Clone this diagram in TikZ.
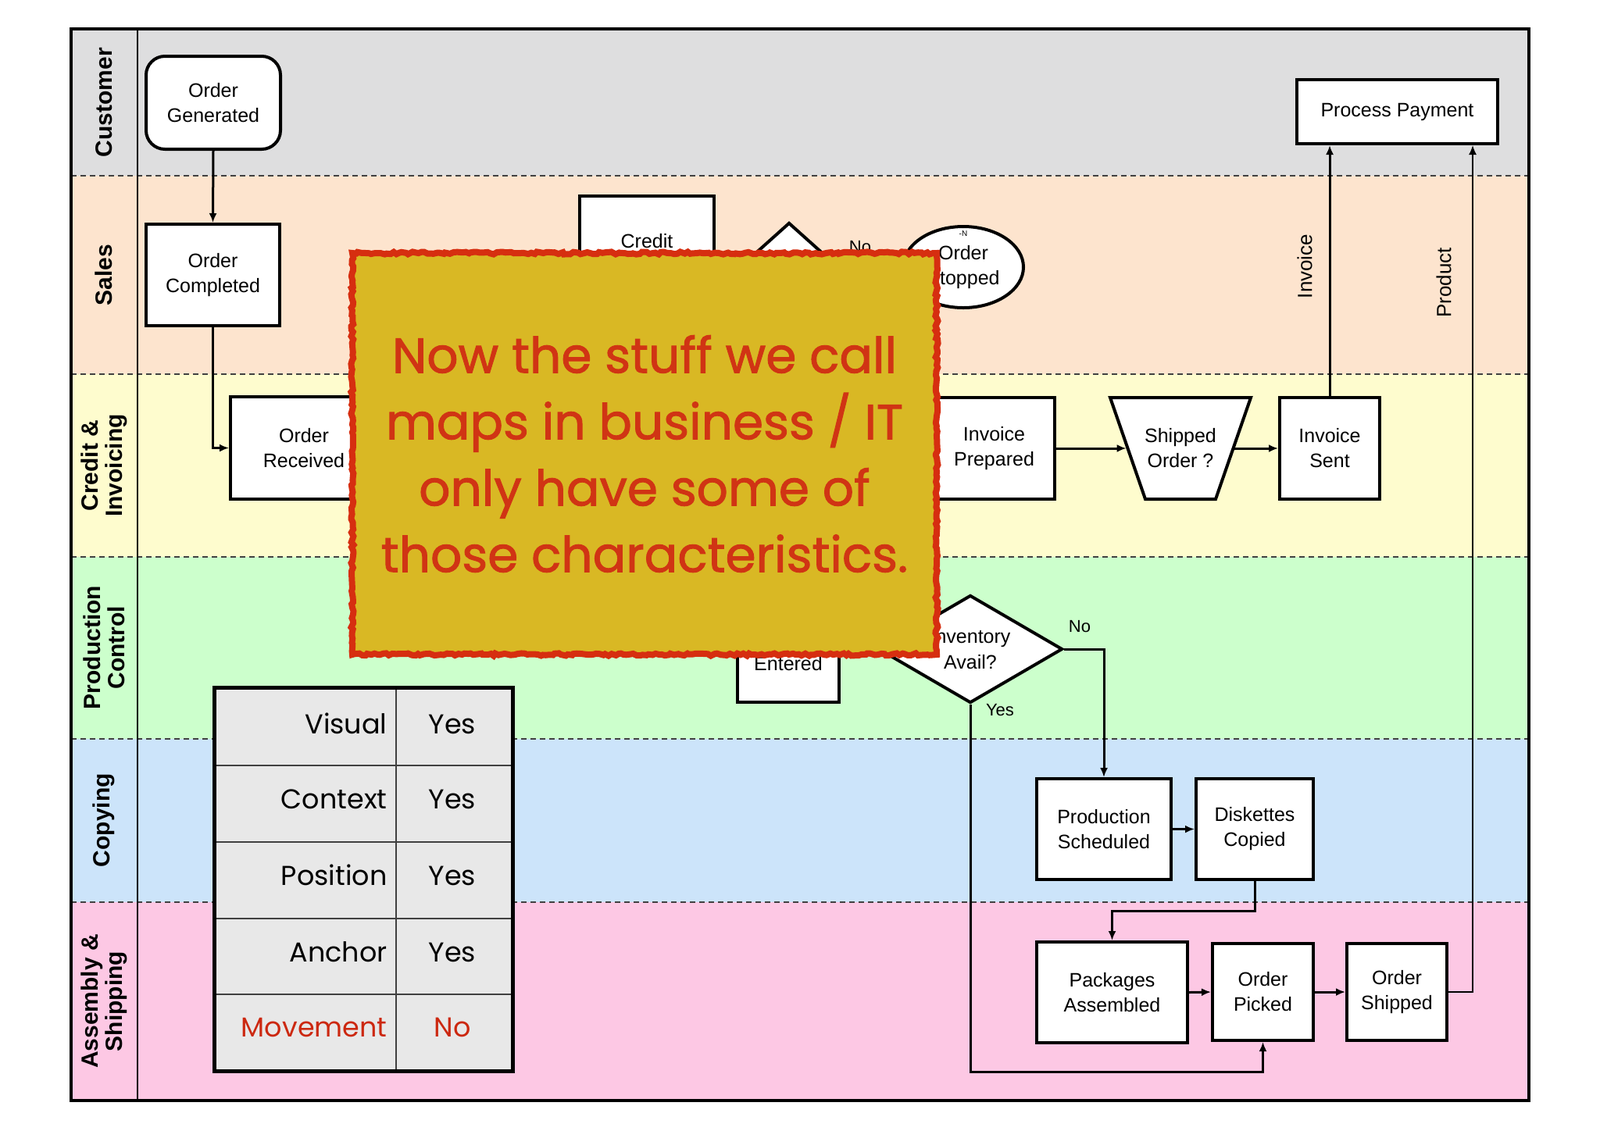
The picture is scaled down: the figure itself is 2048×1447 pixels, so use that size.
\documentclass[tikz,border=0pt]{standalone}
\usepackage{fontspec}
\setmainfont{Liberation Sans}
\newfontfamily\comicfont{Poppins}
\newfontfamily\comicheavy{Poppins}[FakeBold=1.5]
\usetikzlibrary{arrows.meta,decorations.pathmorphing,calc,shapes.geometric}
\definecolor{lanecust}{RGB}{222,222,223}
\definecolor{lanesales}{RGB}{253,228,206}
\definecolor{lanecredit}{RGB}{254,252,206}
\definecolor{laneprod}{RGB}{204,255,204}
\definecolor{lanecopy}{RGB}{204,228,250}
\definecolor{laneasm}{RGB}{253,200,228}
\definecolor{ovfill}{RGB}{217,184,36}
\definecolor{ovred}{RGB}{214,46,16}
\definecolor{ovtext}{RGB}{208,52,20}
\definecolor{tabfill}{RGB}{232,232,232}
\definecolor{movred}{RGB}{204,40,16}
\begin{document}
\begin{tikzpicture}[x=0.5pt,y=-0.5pt,
  box/.style={draw=black,line width=2pt,fill=white,align=center,inner sep=0pt,
    font=\fontsize{12.5}{16}\selectfont},
  conn/.style={line width=1.5pt,-{Latex[length=6pt,width=5pt]}},
  thinconn/.style={line width=0.8pt,-{Latex[length=6pt,width=5pt]}},
  lanelbl/.style={rotate=90,align=center,font=\bfseries\fontsize{15}{15.5}\selectfont},
  edgelbl/.style={font=\fontsize{11}{13}\selectfont,inner sep=0pt},
  sidelbl/.style={rotate=90,font=\fontsize{13}{15}\selectfont,inner sep=0pt},
  lanesep/.style={draw=black!75,line width=1pt,dash pattern=on 3.5pt off 2.5pt},
  tabtxt/.style={font=\comicfont\fontsize{17.5}{20}\selectfont,inner sep=0pt}
]
\useasboundingbox (0,0) rectangle (2048,1447);
\fill[white] (0,0) rectangle (2048,1447);

% lanes
\fill[lanecust]   (91,37)   rectangle (1957,225);
\fill[lanesales]  (91,225)  rectangle (1957,479);
\fill[lanecredit] (91,479)  rectangle (1957,713);
\fill[laneprod]   (91,713)  rectangle (1957,946);
\fill[lanecopy]   (91,946)  rectangle (1957,1155);
\fill[laneasm]    (91,1155) rectangle (1957,1409);
\foreach \yy in {225,479,713,946,1155}
  \draw[lanesep] (91,\yy) -- (1957,\yy);
\draw[line width=0.8pt] (176,37) -- (176,1409);
\draw[line width=1.6pt] (91,37) rectangle (1957,1409);

% lane labels
\node[lanelbl] (lcust) at (133,131) {Customer};
\node[lanelbl] (lsales) at (133,352) {Sales};
\node[lanelbl] (lcred) at (133,596) {Credit \&\\Invoicing};
\node[lanelbl] (lprod) at (133,829) {Production\\Control};
\node[lanelbl] (lcopy) at (133,1050) {Copying};
\node[lanelbl] (lasm) at (133,1282) {Assembly \&\\Shipping};

% nodes
\node[box,rounded corners=12pt,minimum width=86pt,minimum height=59.5pt] (og) at (273,131.5) {Order\\Generated};
\node[box,minimum width=85.5pt,minimum height=65pt] (oc) at (272.5,352) {Order\\Completed};
\node[box,minimum width=94pt,minimum height=65.5pt] (orr) at (389,573.5) {Order\\Received};
\node[box,minimum width=86pt,minimum height=58pt] (cr) at (828,309) {Credit};
\node[box,diamond,minimum width=78pt,minimum height=70pt] (sd) at (1010,355) {};
\node[box,ellipse,minimum width=77pt,minimum height=52pt] (ost) at (1233,342) {Order\\Stopped};
\node[font=\fontsize{5}{6}\selectfont,inner sep=0pt] (ostn) at (1233,299) {-N};
\node[edgelbl] (nolbl1) at (1101,316) {No};
\node[box,minimum width=128.5pt,minimum height=41pt] (pp) at (1788.5,143) {Process Payment};
\node[box,minimum width=77.5pt,minimum height=65pt] (ip) at (1272.5,574) {Invoice\\Prepared};
\draw[box] (1421,509) -- (1601,509) -- (1556,639) -- (1466,639) -- cycle;
\node[align=center,inner sep=0pt,minimum width=69pt,minimum height=65pt,font=\fontsize{12.5}{16}\selectfont] (so) at (1511,574) {Shipped\\Order ?};
\node[box,minimum width=64pt,minimum height=65pt] (is) at (1702,574) {Invoice\\Sent};
\node[box,minimum width=65pt,minimum height=49pt] (en) at (1009,850) {Entered};
\node[box,diamond,minimum width=118pt,minimum height=69pt] (inv) at (1242,831) {};
\node[align=center,inner sep=0pt,font=\fontsize{12.5}{16.5}\selectfont] (invt) at (1242,832) {Inventory\\Avail?};
\node[edgelbl] (nolbl2) at (1382,802) {No};
\node[edgelbl] (yeslbl) at (1280,909) {Yes};
\node[box,minimum width=86pt,minimum height=64.5pt] (ps) at (1413,1061.5) {Production\\Scheduled};
\node[box,minimum width=75pt,minimum height=64.5pt] (dc) at (1606,1061.5) {Diskettes\\Copied};
\node[box,minimum width=96.5pt,minimum height=64.5pt] (pa) at (1423.5,1270.5) {Packages\\Assembled};
\node[box,minimum width=64.5pt,minimum height=62pt] (op) at (1616.5,1270) {Order\\Picked};
\node[box,minimum width=64pt,minimum height=62pt] (osh) at (1788,1270) {Order\\Shipped};
\node[sidelbl] (invlbl) at (1670,341) {Invoice};
\node[sidelbl] (prodlbl) at (1848,362) {Product};

% connectors
\draw[conn] (og.south) -- (oc.north);
\draw[conn] (oc.south) |- (orr.west);
\draw[conn] (ip.east) -- (so.west);
\draw[conn] (so.east) -- (is.west);
\draw[conn] (is.north) -- (is.north |- pp.south);
\draw[thinconn] (osh.east) -| ([xshift=-17pt]pp.south east);
\draw[conn] (inv.east) -| (ps.north);
\draw[conn] (inv.south) |- ([yshift=-19pt]op.south) -- (op.south);
\draw[conn] (ps.east) -- (dc.west);
\draw[conn] (dc.south) |- ($(dc.south)!0.5!(pa.north)$) -| (pa.north);
\draw[conn] (pa.east) -- (op.west);
\draw[conn] (op.east) -- (osh.west);

% overlay note
\draw[decorate,decoration={random steps,segment length=2pt,amplitude=0.8pt},
  draw=ovred,line width=4pt,fill=ovfill]
  (451,324) -- (1199,324) -- (1199,838) -- (451,838) -- cycle;
\node[align=center,text=ovtext,font=\comicheavy\fontsize{31.5}{42.5}\selectfont] (ovt) at (825,581)
  {Now the stuff we call\\maps in business / IT\\only have some of\\those characteristics.};

% table
\fill[tabfill] (274,880) rectangle (656,1371);
\foreach \yy in {980,1078,1176,1273}
  \draw[line width=1pt,black!75] (274,\yy) -- (656,\yy);
\draw[line width=1pt,black!75] (507,880) -- (507,1371);
\draw[line width=2.5pt] (274,880) rectangle (656,1371);
\node[tabtxt,anchor=mid east] (t1a) at (496,934) {Visual};
\node[tabtxt,anchor=mid] (t1b) at (579,934) {Yes};
\node[tabtxt,anchor=mid east] (t2a) at (496,1030) {Context};
\node[tabtxt,anchor=mid] (t2b) at (579,1030) {Yes};
\node[tabtxt,anchor=mid east] (t3a) at (496,1128) {Position};
\node[tabtxt,anchor=mid] (t3b) at (579,1128) {Yes};
\node[tabtxt,anchor=mid east] (t4a) at (496,1226) {Anchor};
\node[tabtxt,anchor=mid] (t4b) at (579,1226) {Yes};
\node[tabtxt,anchor=mid east,text=movred] (t5a) at (496,1322) {Movement};
\node[tabtxt,anchor=mid,text=movred] (t5b) at (579,1322) {No};
\end{tikzpicture}
\end{document}
